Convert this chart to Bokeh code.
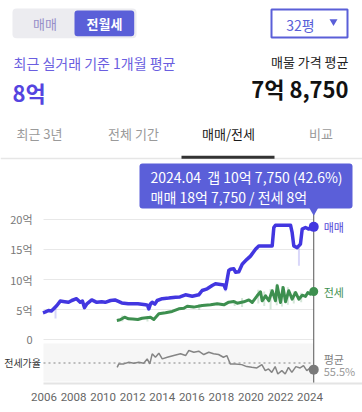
from bokeh.plotting import figure
from bokeh.models import Range1d, FixedTicker
from bokeh.layouts import column
from bokeh.core.properties import value
from bokeh.embed import file_html
from bokeh.resources import INLINE

FONT = value("Noto Sans CJK KR")
FONT_NAME = "Noto Sans CJK KR"

# ---------------- data ----------------
SALE_YEAR = [2005.93, 2006.1, 2006.3, 2006.5, 2006.64, 2006.87, 2007.1, 2007.4, 2007.66, 2007.88,
             2008.2, 2008.45, 2008.6, 2008.74, 2008.9, 2009.23, 2009.57, 2009.9, 2010.14, 2010.5,
             2010.8, 2011.26, 2011.7, 2012.0, 2012.35, 2012.87, 2013.0, 2013.09, 2013.2, 2013.32,
             2013.5, 2013.66, 2014.0, 2014.44, 2014.9, 2015.2, 2015.57, 2016.03, 2016.47, 2016.7,
             2017.04, 2017.38, 2017.6, 2018.17, 2018.28, 2018.4, 2018.5, 2018.62, 2018.84, 2018.96,
             2019.18, 2019.41, 2019.55, 2019.75, 2019.97, 2020.31, 2020.53, 2021.44, 2021.55, 2021.66,
             2022.68, 2022.79, 2022.9, 2023.13, 2023.35, 2023.47, 2023.69, 2023.92, 2024.15, 2024.25]
SALE = [4.45, 4.6, 4.83, 4.75, 5.1, 5.67, 6.4, 6.3, 6.2, 6.5,
        6.8, 6.2, 6.4, 5.3, 5.95, 6.6, 6.2, 6.3, 6.2, 6.5,
        6.6, 6.1, 5.95, 5.95, 5.95, 5.78, 5.7, 5.1, 5.9, 6.2,
        5.9, 6.5, 6.8, 6.9, 7.05, 7.1, 7.45, 7.2, 7.45, 8.17,
        8.45, 9.0, 9.3, 9.1, 8.45, 10.1, 11.5, 11.7, 11.8, 11.2,
        11.3, 12.55, 12.9, 13.4, 13.9, 15.05, 15.6, 15.6, 18.67, 19.05,
        19.05, 17.8, 15.6, 15.3, 15.9, 18.4, 18.67, 18.4, 18.8, 18.775]

# faint individual-deal ranges (year, low, high)
SALE_RANGE_YEAR = [2006.78, 2018.28, 2023.25]
SALE_RANGE_LO = [3.5, 8.0, 12.3]
SALE_RANGE_HI = [5.3, 8.7, 15.3]

JEONSE_YEAR = [2010.93, 2011.15, 2011.45, 2011.72, 2012.0, 2012.35, 2012.64, 2013.2, 2013.43, 2013.77,
               2014.22, 2014.67, 2015.12, 2015.46, 2015.69, 2016.13, 2016.7, 2017.27, 2017.72, 2018.17,
               2018.5, 2018.84, 2019.07, 2019.52, 2019.86, 2020.09, 2020.42, 2020.65, 2020.76, 2020.99,
               2021.21, 2021.44, 2021.66, 2021.78, 2022.0, 2022.18, 2022.34, 2022.56, 2022.79, 2023.02,
               2023.24, 2023.47, 2023.69, 2023.85, 2024.03, 2024.25]
JEONSE = [3.17, 3.28, 3.72, 3.45, 3.4, 3.33, 3.55, 3.72, 3.33, 4.28,
          4.45, 4.67, 5.12, 5.22, 5.55, 5.4, 5.67, 5.78, 5.95, 5.78,
          6.22, 6.33, 6.05, 6.28, 6.6, 6.17, 7.28, 7.95, 6.45, 7.28,
          6.45, 8.12, 6.45, 8.95, 6.17, 8.67, 6.28, 8.12, 6.72, 7.83,
          6.72, 7.39, 7.17, 7.83, 7.55, 8.0]

JEONSE_RANGE_YEAR = [2011.3, 2013.0, 2016.5, 2018.9, 2019.4, 2020.5, 2020.9, 2021.33, 2021.75,
                     2022.1, 2022.5, 2022.9, 2023.4]
JEONSE_RANGE_LO = [3.0, 3.0, 4.9, 5.6, 5.4, 6.0, 5.6, 5.05, 5.7, 5.5, 5.8, 6.0, 6.2]
JEONSE_RANGE_HI = [4.0, 3.9, 5.9, 6.6, 6.9, 8.3, 8.0, 8.4, 9.3, 8.9, 8.7, 8.0, 7.8]

RATIO_YEAR = [2010.95, 2011.06, 2011.40, 2011.74, 2012.08, 2012.41, 2012.75, 2012.98, 2013.16, 2013.32,
              2013.54, 2013.77, 2014.0, 2014.34, 2014.78, 2015.24, 2015.58, 2015.80, 2016.14, 2016.47,
              2016.81, 2017.15, 2017.47, 2017.81, 2018.14, 2018.37, 2018.60, 2018.94, 2019.38, 2019.72,
              2020.06, 2020.40, 2020.74, 2020.97, 2021.19, 2021.41, 2021.64, 2021.82, 2022.09, 2022.32,
              2022.54, 2022.77, 2023.04, 2023.33, 2023.56, 2023.78, 2024.01, 2024.25]
RATIO = [47.0, 53.6, 53.6, 56.7, 54.7, 56.7, 54.7, 63.2, 53.6, 72.8,
         66.3, 74.0, 63.2, 66.3, 69.5, 72.8, 69.5, 79.2, 75.9, 77.8,
         71.5, 75.9, 72.8, 71.5, 66.3, 69.5, 53.6, 53.6, 52.2, 48.4,
         47.0, 45.9, 52.2, 40.7, 44.0, 37.4, 48.4, 34.3, 40.7, 34.3,
         47.0, 37.4, 48.4, 45.9, 50.3, 40.7, 45.9, 42.6]
RATIO_AVG = 55.5

Y_TICKS = [0, 5, 10, 15, 20]
Y_LABELS = ["0", "5억", "10억", "15억", "20억"]
X_TICKS = list(range(2006, 2025, 2))

CUR = SALE_YEAR[-1]
TIP_LINE1 = "2024.04\u00a0\u00a0갭 10억 7,750 (42.6%)"
TIP_LINE2 = "매매 18억 7,750 / 전세 8억"

# ---------------- colors ----------------
PURPLE = "#5a5fd8"
SALE_C = "#4236e0"
JEONSE_C = "#3d8f4f"
RATIO_C = "#858585"

W = 362

# ---------------- header ----------------
hdr = figure(width=W, height=160, x_range=Range1d(0, W), y_range=Range1d(160, 0),
             output_backend="svg", toolbar_location=None, min_border=0)
hdr.frame_align = False
hdr.axis.visible = False
hdr.grid.visible = False
hdr.outline_line_color = None

hdr.quad(left=[12], right=[136], top=[8], bottom=[37.7], fill_color="#ececf0",
         line_color=None, border_radius=4)
hdr.quad(left=[74], right=[133.7], top=[10], bottom=[35.7], fill_color=PURPLE,
         line_color=None, border_radius=3)
hdr.quad(left=[271], right=[347], top=[9], bottom=[37], fill_color="white",
         line_color=PURPLE, line_width=2)
hdr.text(x=[44.5], y=[23], text=["매매"], text_align="center", text_baseline="middle",
         text_font=FONT, text_font_size="13px", text_color="#968ec8")
hdr.text(x=[104], y=[23], text=["전월세"], text_align="center", text_baseline="middle",
         text_font=FONT, text_font_size="13px", text_color="white", text_font_style="bold")
hdr.text(x=[300], y=[24], text=["32평"], text_align="center", text_baseline="middle",
         text_font=FONT, text_font_size="14px", text_color=PURPLE)
hdr.scatter(x=[333], y=[21], marker="inverted_triangle", size=8, fill_color=PURPLE,
            line_color=None)
hdr.text(x=[13], y=[62], text=["최근 실거래 기준 1개월 평균"], text_align="left",
         text_baseline="middle", text_font=FONT, text_font_size="14px", text_color="#6a5ee0")
hdr.text(x=[12], y=[91], text=["8억"], text_align="left", text_baseline="middle",
         text_font=FONT, text_font_size="22px", text_font_style="bold", text_color="#5544e0")
hdr.text(x=[348], y=[61], text=["매물 가격 평균"], text_align="right", text_baseline="middle",
         text_font=FONT, text_font_size="13px", text_color="#222222")
hdr.text(x=[348], y=[87], text=["7억 8,750"], text_align="right", text_baseline="middle",
         text_font=FONT, text_font_size="22px", text_font_style="bold", text_color="#111111")

TABS = ["최근 3년", "전체 기간", "매매/전세", "비교"]
TAB_X = [39, 133, 228, 320.5]
TAB_C = ["#9a9a9a", "#9a9a9a", "#1a1a1a", "#9a9a9a"]
hdr.text(x=TAB_X, y=[133] * 4, text=TABS, text_align="center", text_baseline="middle",
         text_font=FONT, text_font_size="13px", text_color=TAB_C)
hdr.quad(left=[0], right=[W], top=[157.3], bottom=[158.7], fill_color="#e6e6e6", line_color=None)
hdr.quad(left=[181], right=[274], top=[155.3], bottom=[158.3], fill_color="#333333", line_color=None)

# ---------------- chart ----------------
PPX = 14.78                 # pixels per year
X_START = 2005.966          # left edge of the plotting area
PLOT_LEFT_PX = 43.0
X0 = X_START - PLOT_LEFT_PX / PPX
X1 = X_START + (W - PLOT_LEFT_PX) / PPX
Y0, Y1 = -7.333, 29.833
R0, R1 = 16.18, 441.7
PANEL_LO, PANEL_HI = 20.0, 92.5

p = figure(width=W, height=252, x_range=Range1d(X0, X1), y_range=Range1d(Y0, Y1),
           output_backend="svg", toolbar_location=None, min_border_left=0,
           min_border_right=0, min_border_top=0, min_border_bottom=29)
p.frame_align = False
p.extra_y_ranges = {"ratio": Range1d(R0, R1)}
p.outline_line_color = None
p.grid.visible = False
p.yaxis.visible = False

p.xaxis.ticker = FixedTicker(ticks=X_TICKS)
p.xaxis.bounds = (X_START, X1)
p.xaxis.axis_line_color = "#e4e4e4"
p.xaxis.axis_line_width = 2
p.xaxis.major_tick_line_color = None
p.xaxis.minor_tick_line_color = None
p.xaxis.major_tick_out = 0
p.xaxis.major_tick_in = 0
p.xaxis.major_label_standoff = 9
p.xaxis.major_label_text_font = "Roboto"
p.xaxis.major_label_text_font_size = "11.5px"
p.xaxis.major_label_text_color = "#666666"

# y tick labels and grid lines (grid ends at the current month)
p.text(x=[X_START] * len(Y_TICKS), y=Y_TICKS, text=Y_LABELS, x_offset=-11, text_align="right",
       text_baseline="middle", text_font=FONT, text_font_size="11px", text_color="#777777")
p.segment(x0=[X_START] * len(Y_TICKS), x1=[CUR] * len(Y_TICKS), y0=Y_TICKS, y1=Y_TICKS,
          line_color="#e8e8e8", line_width=1)

# ratio panel
p.quad(left=[X_START], right=[CUR], bottom=[PANEL_LO], top=[PANEL_HI], y_range_name="ratio",
       fill_color="#f6f6f6", line_color=None)
p.segment(x0=[X_START], x1=[CUR], y0=[RATIO_AVG], y1=[RATIO_AVG], y_range_name="ratio",
          line_color="#aaaaaa", line_width=1.5, line_dash="2 3")
p.text(x=[X_START], y=[RATIO_AVG], y_range_name="ratio", text=["전세가율"], x_offset=-2.5,
       text_align="right", text_baseline="middle", text_font=FONT, text_font_size="10px",
       text_color="#333333")
p.line(RATIO_YEAR, RATIO, y_range_name="ratio", line_color=RATIO_C, line_width=1.5)

# faint deal ranges
p.segment(x0=JEONSE_RANGE_YEAR, x1=JEONSE_RANGE_YEAR, y0=JEONSE_RANGE_LO, y1=JEONSE_RANGE_HI,
          line_color=JEONSE_C, line_alpha=0.22, line_width=2)
p.segment(x0=SALE_RANGE_YEAR, x1=SALE_RANGE_YEAR, y0=SALE_RANGE_LO, y1=SALE_RANGE_HI,
          line_color=SALE_C, line_alpha=0.2, line_width=2)

# price lines
p.line(JEONSE_YEAR, JEONSE, line_color=JEONSE_C, line_width=3, line_join="round")
p.line(SALE_YEAR, SALE, line_color=SALE_C, line_width=3.5, line_join="round")

def px2x(px):
    return X0 + px / PPX
def py2y(py):
    return (339.0 - py) / 6.0

# current marker line
p.segment(x0=[CUR], x1=[CUR], y0=[py2y(213)], y1=[Y0], line_color="#555555", line_width=1)

p.scatter([CUR], [SALE[-1]], size=10, fill_color=SALE_C, line_color=None)
p.scatter([CUR], [JEONSE[-1]], size=9, fill_color=JEONSE_C, line_color=None)
p.scatter([CUR], [RATIO[-1]], y_range_name="ratio", size=10, fill_color="#7a7a7a", line_color=None)

p.text(x=[CUR], y=[SALE[-1]], text=["매매"], x_offset=10, text_baseline="middle",
       text_font=FONT, text_font_size="11px", text_color="#5548d8")
p.text(x=[CUR], y=[JEONSE[-1]], text=["전세"], x_offset=10, text_baseline="middle",
       text_font=FONT, text_font_size="11px", text_color=JEONSE_C)
p.text(x=[CUR], y=[RATIO_AVG], y_range_name="ratio", text=["평균"], x_offset=10, y_offset=-4,
       text_baseline="middle", text_font=FONT, text_font_size="11px", text_color="#808080")
p.text(x=[CUR], y=[RATIO_AVG], y_range_name="ratio", text=["%.1f%%" % RATIO_AVG], x_offset=10,
       y_offset=8, text_baseline="middle", text_font=FONT, text_font_size="11px",
       text_color="#9a9a9a")

# tooltip box
p.quad(left=[px2x(139)], right=[px2x(352)], top=[py2y(163)], bottom=[py2y(208)],
       fill_color="#5b5fd9", line_color=None, border_radius=3)
p.scatter([CUR], [py2y(209.5)], marker="inverted_triangle", size=10, fill_color="#5b5fd9",
          line_color=None)
p.text(x=[px2x(150)] * 2, y=[py2y(176.5), py2y(196.5)], text=[TIP_LINE1, TIP_LINE2],
       text_baseline="middle", text_font=FONT, text_font_size="14px", text_color="white")

layout = column(hdr, p, spacing=0)
open("out.html", "w").write(file_html(layout, INLINE))
